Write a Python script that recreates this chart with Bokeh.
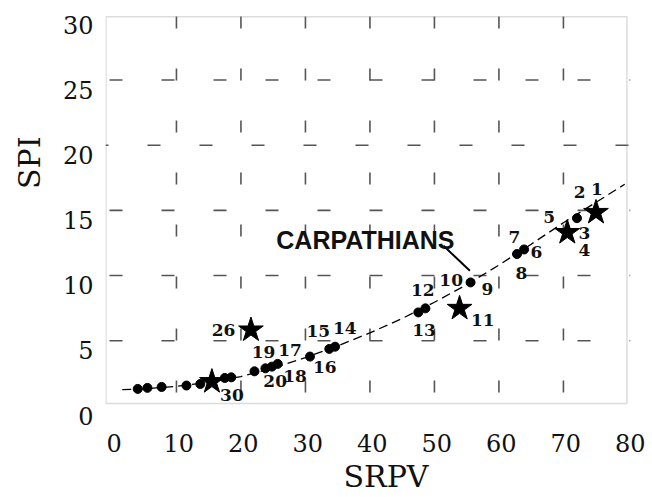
import numpy as np
from bokeh.plotting import figure
from bokeh.models import Range1d, LinearAxis, FixedTicker, Span, BoxAnnotation, Label, Title
from bokeh.core.properties import value
from bokeh.embed import file_html
from bokeh.resources import INLINE

# ---- data ----
x_ticks = [0, 10, 20, 30, 40, 50, 60, 70, 80]
y_ticks = [0, 5, 10, 15, 20, 25, 30]
grid_x = [10, 20, 30, 40, 50, 60, 70]
grid_y = [5, 10, 15, 20, 25]

dot_x = [72.1, 63.9, 62.8, 55.6, 48.6, 47.5, 34.6, 33.7, 30.7, 25.7,
         24.8, 23.8, 22.1, 18.5, 17.5, 13.7, 11.55, 7.7, 5.5, 4.0]
dot_y = [14.4, 12.0, 11.65, 9.47, 7.48, 7.17, 4.54, 4.37, 3.78, 3.22,
         3.01, 2.88, 2.65, 2.19, 2.14, 1.68, 1.56, 1.45, 1.38, 1.30]

star_x = [75.05, 70.6, 53.9, 21.55, 15.5]
star_y = [14.84, 13.3, 7.48, 5.82, 1.86]

label_text = ["1", "2", "3", "4", "5", "6", "7", "8", "9", "10", "11", "12",
              "13", "14", "15", "16", "17", "18", "19", "20", "26", "30"]
label_x = [75.2, 72.5, 73.25, 73.25, 67.8, 65.8, 62.4, 63.5, 58.2, 52.6, 57.5,
           48.2, 48.4, 36.1, 32.0, 33.0, 27.6, 28.4, 23.5, 25.3, 17.3, 18.6]
label_y = [16.63, 16.37, 13.23, 11.95, 14.5, 11.77, 12.92, 10.2, 8.97, 9.66, 6.59,
           8.91, 5.82, 5.95, 5.77, 2.96, 4.29, 2.32, 4.11, 1.94, 5.82, 0.87]

curve_x = [1.6, 5, 10, 15, 20, 25, 30, 35, 40, 45, 50, 55, 60, 65, 70, 75, 79.5]
curve_y = [1.25, 1.30, 1.50, 1.80, 2.25, 2.90, 3.70, 4.60, 5.60, 6.70, 7.95,
           9.30, 10.80, 12.40, 14.05, 15.60, 17.0]

note_text = "CARPATHIANS"
note_x, note_y = 39.3, 12.72
leader_x = [51.4, 55.5]
leader_y = [12.28, 10.37]

# ---- figure ----
p = figure(width=650, height=497, output_backend="svg", toolbar_location=None,
           x_range=Range1d(-1.0, 80.4), y_range=Range1d(-1.2, 29.95),
           x_axis_location=None, y_axis_location=None,
           min_border_left=104, min_border_right=20, min_border_top=15, min_border_bottom=76)
p.grid.visible = False
p.outline_line_color = None
p.background_fill_color = "white"
p.border_fill_color = "white"

serif = "DejaVu Serif"
txt_col = "#111111"

# tick labels sit slightly off their ticks in the original: shifted label ranges
p.extra_y_ranges = {"ylab": Range1d(-1.2 + 0.75, 29.95 + 0.75)}
p.extra_x_ranges = {"xlab": Range1d(-1.0 - 0.35, 80.4 - 0.35)}
yax = LinearAxis(y_range_name="ylab", ticker=FixedTicker(ticks=y_ticks))
xax = LinearAxis(x_range_name="xlab", ticker=FixedTicker(ticks=x_ticks))
for ax, so in ((yax, 12), (xax, 12)):
    ax.axis_line_color = None
    ax.major_tick_line_color = None
    ax.minor_tick_line_color = None
    ax.major_tick_in = 0
    ax.major_tick_out = 0
    ax.major_label_standoff = so
    ax.major_label_text_font = serif
    ax.major_label_text_font_size = "24px"
    ax.major_label_text_color = txt_col
p.add_layout(yax, "left")
p.add_layout(xax, "below")

# axis titles
p.add_layout(Title(text="SRPV", align="left", offset=238, standoff=4,
                   text_font=serif, text_font_size="30px", text_font_style="normal",
                   text_color=txt_col), "below")
p.add_layout(Title(text="SPI", align="right", offset=121, standoff=22, vertical_align="top",
                   text_font=serif, text_font_size="30px", text_font_style="normal",
                   text_color=txt_col), "left")

# broken grid
grid_col = "#555555"
for gx in grid_x:
    p.add_layout(Span(location=gx, dimension="height", line_color=grid_col,
                      line_width=1.6, line_dash="12 40", line_dash_offset=51,
                      level="underlay"))
row_offsets = [48, 48, 48, 10, 48]
for gy, off in zip(grid_y, row_offsets):
    p.add_layout(Span(location=gy, dimension="width", line_color=grid_col,
                      line_width=1.6, line_dash="13 39", line_dash_offset=off,
                      level="underlay"))

# plot box
p.add_layout(BoxAnnotation(left=-0.93, right=79.85, bottom=0.18, top=29.85,
                           fill_color=None, line_color="#8c8c8c", line_width=1.5,
                           level="underlay"))

# fitted curve
p.line(curve_x, curve_y, line_color="black", line_width=1.3, line_dash="9 5")

# points
p.scatter(dot_x, dot_y, marker="circle", size=9, fill_color="black", line_color="black")
p.scatter(star_x, star_y, marker="star", size=26, fill_color="black", line_color="black")

# labels
p.text(label_x, label_y, text=label_text, text_font=value(serif), text_font_style="bold",
       text_font_size="17px", text_align="center", text_baseline="middle", text_color=txt_col)

p.line(leader_x, leader_y, line_color="black", line_width=2)
p.add_layout(Label(x=note_x, y=note_y, text=note_text, text_font="Liberation Sans",
                   text_font_style="bold", text_font_size="25px", text_align="center",
                   text_baseline="middle", text_color=txt_col))

open("out.html", "w").write(file_html(p, INLINE))
